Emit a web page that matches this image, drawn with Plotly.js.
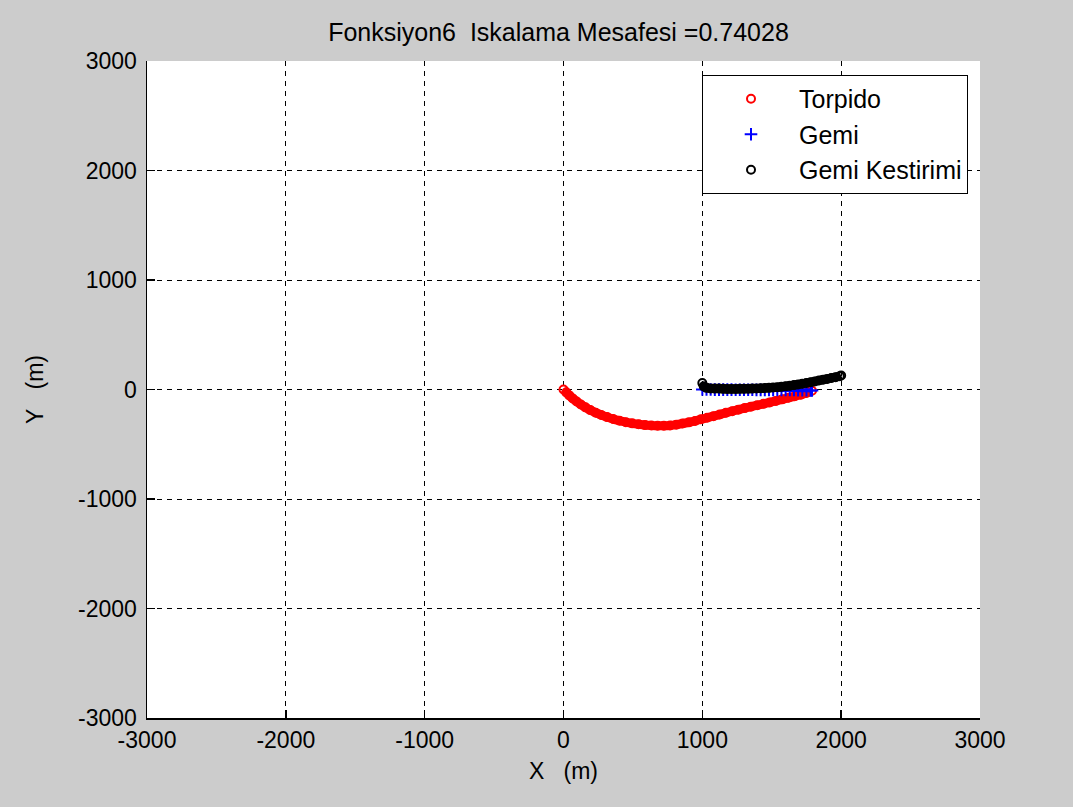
<!DOCTYPE html>
<html>
<head>
<meta charset="utf-8">
<script src="https://cdn.plot.ly/plotly-3.0.1.min.js"></script>
<style>html,body{margin:0;padding:0;background:#cccccc;}#chart{width:1073px;height:807px;}</style>
</head>
<body>
<div id="chart"></div>
<script>
// Torpido (torpedo path)
const torpidoX = [0,20,42,67,95,125,158,193,232,272,314,358,403,449,495,541,587,633,678,723,768,813,858,903,948,990,1035,1080,1125,1170,1215,1260,1305,1350,1395,1440,1485,1530,1575,1620,1665,1710,1750,1790];
const torpidoY = [0,-26,-54,-82,-110,-137,-163,-188,-212,-233,-252,-270,-285,-298,-309,-318,-325,-329,-331,-331,-328,-321,-311,-300,-287,-272,-258,-244,-229,-213,-198,-184,-170,-157,-144,-131,-118,-104,-90,-76,-62,-47,-31,-12];

// Gemi (ship path)
const gemiX = [1000,1030,1060,1090,1120,1150,1180,1210,1240,1270,1300,1330,1360,1390,1420,1450,1480,1510,1540,1570,1600,1630,1660,1690,1720,1750,1780,1790];
const gemiY = [0,0,0,-1,-1,-1,-1,-1,-2,-2,-2,-2,-2,-3,-3,-3,-3,-4,-4,-4,-5,-5,-5,-6,-6,-7,-8,-9];

// Gemi Kestirimi (ship estimate)
const kestirimX = [1000,1010,1030,1060,1090,1120,1150,1180,1210,1240,1270,1300,1330,1360,1390,1420,1450,1480,1510,1540,1570,1600,1630,1660,1690,1720,1750,1780,1810,1840,1870,1900,1930,1960,1990,2000];
const kestirimY = [60,30,15,10,8,8,6,5,5,5,6,6,7,8,9,11,13,15,18,21,25,29,34,40,46,52,59,66,74,82,90,97,105,113,122,128];

// Ticks
const tickVals = [-3000,-2000,-1000,0,1000,2000,3000];
const tickLabels = ['-3000','-2000','-1000','0','1000','2000','3000'];

const FONT = 'Liberation Sans, Arial, Helvetica, sans-serif';

function band(x, y, color, width, group) {
  return {x: x, y: y, type: 'scatter', mode: 'lines', showlegend: false, legendgroup: group,
          hoverinfo: 'skip', line: {color: color, width: width, shape: 'spline', smoothing: 0.6}};
}

const traces = [
  band(torpidoX, torpidoY, '#ff0000', 9, 't'),
  {x: torpidoX, y: torpidoY, name: 'Torpido', legendgroup: 't', type: 'scatter', mode: 'markers',
   marker: {symbol: 'circle-open', size: 8, color: '#ff0000', line: {width: 2, color: '#ff0000'}}},
  band(gemiX, gemiY, '#0000ff', 4, 'g'),
  {x: gemiX, y: gemiY, name: 'Gemi', legendgroup: 'g', type: 'scatter', mode: 'markers',
   marker: {symbol: 'cross-thin-open', size: 9, color: '#0000ff', line: {width: 2, color: '#0000ff'}}},
  band(kestirimX, kestirimY, '#000000', 9, 'k'),
  {x: kestirimX, y: kestirimY, name: 'Gemi Kestirimi', legendgroup: 'k', type: 'scatter', mode: 'markers',
   marker: {symbol: 'circle-open', size: 8, color: '#000000', line: {width: 2, color: '#000000'}}}
];

const axisCommon = {
  range: [-3000, 3000], tickmode: 'array', tickvals: tickVals, ticktext: tickLabels,
  showgrid: true, gridcolor: '#000000', gridwidth: 1, griddash: '5px,5px',
  zeroline: false, showline: true, linecolor: '#000000', linewidth: 1.5, mirror: false,
  ticks: 'inside', ticklen: 8, tickwidth: 1.5, tickcolor: '#000000',
  tickfont: {family: FONT, size: 23, color: '#000000'}
};

const layout = {
  width: 1073, height: 807, autosize: false,
  paper_bgcolor: '#cccccc', plot_bgcolor: '#ffffff',
  margin: {l: 147, r: 93, t: 61, b: 89, pad: 0},
  title: {text: 'Fonksiyon6&nbsp;&nbsp;Iskalama Mesafesi =0.74028', x: 0.494, xref: 'paper',
          y: 1 - 32/807, yref: 'container', yanchor: 'middle',
          font: {family: FONT, size: 25, color: '#000000'}},
  xaxis: Object.assign({}, axisCommon, {
    title: {text: 'X&nbsp;&nbsp;&nbsp;(m)', font: {family: FONT, size: 23, color: '#000000'}, standoff: 11},
    ticklabelstandoff: 1
  }),
  yaxis: Object.assign({}, axisCommon, {
    title: {text: 'Y&nbsp;&nbsp;&nbsp;(m)', font: {family: FONT, size: 23, color: '#000000'}, standoff: 28},
    ticklabelstandoff: 4
  }),
  showlegend: true,
  legend: {x: 0.9856, xanchor: 'right', y: 0.9787, yanchor: 'top',
           bgcolor: '#ffffff', bordercolor: '#000000', borderwidth: 1,
           font: {family: FONT, size: 25, color: '#000000'}, itemwidth: 86, tracegroupgap: 0}
};

Plotly.newPlot('chart', traces, layout, {displayModeBar: false, staticPlot: true});
</script>
</body>
</html>
